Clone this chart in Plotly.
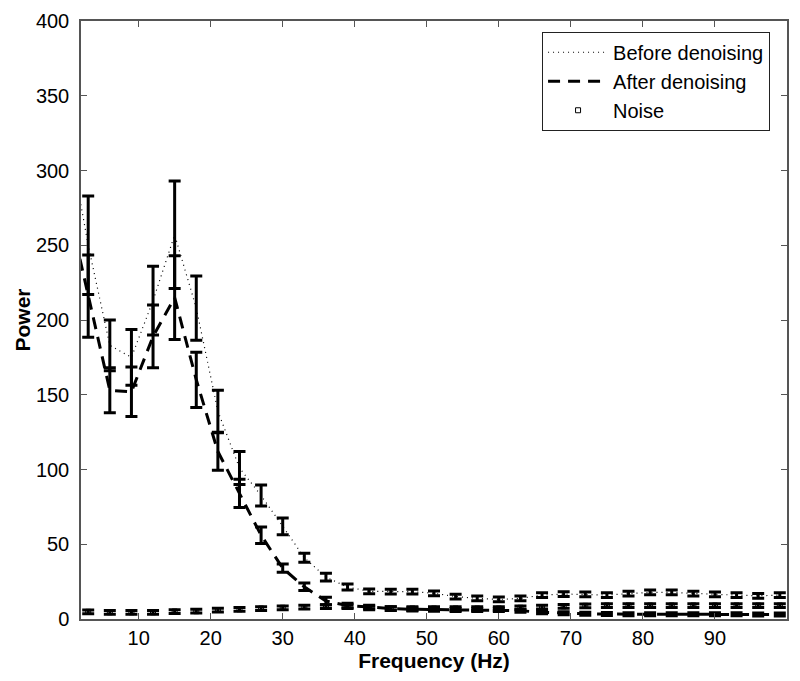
import plotly.graph_objects as go

# ---- data ----
freq = [0, 3, 6, 9, 12, 15, 18, 21, 24, 27, 30, 33, 36, 39, 42, 45, 48, 51,
        54, 57, 60, 63, 66, 69, 72, 75, 78, 81, 84, 87, 90, 93, 96, 99]

before = [330, 250, 183, 175, 213, 257, 208, 139, 101, 82.6, 62, 41, 28, 21.4,
          18.5, 18.3, 18.3, 17.2, 15, 13.8, 13.1, 13.8, 16, 16.7, 16.5, 16, 17,
          17.8, 17.8, 17, 16.5, 16, 15.5, 16]
before_err = [0, 33, 17, 18.6, 23, 36, 21.5, 14, 11, 7, 5.6, 3, 2.6, 2, 1.6,
              1.6, 1.6, 1.6, 1.6, 1.6, 1.6, 1.6, 1.6, 1.6, 1.6, 1.6, 1.6, 1.6,
              1.6, 1.6, 1.6, 1.6, 1.6, 1.6]

after = [280, 216, 153, 152, 189, 215, 160, 112, 84, 56, 34, 21.5, 12, 9, 8,
         7, 6.5, 6.3, 6, 6, 6, 5.5, 4.5, 3.8, 3.5, 3.3, 3.2, 3.2, 3.2, 3.1,
         3.1, 3.1, 3, 3]
after_err = [0, 27.5, 15, 16.5, 21, 28, 18.5, 12.5, 9.5, 5.5, 2.8, 2.5, 2.5,
             1.5, 1.2, 1.2, 1.1, 1.1, 1.0, 1.0, 1.0, 1.0, 1.0, 1.0, 1.0, 1.0,
             1.0, 1.0, 1.0, 1.0, 1.0, 1.0, 1.0, 1.0]

noise = [5, 4.8, 4.5, 4.5, 4.5, 5, 5.2, 6, 6.5, 7, 7.5, 8, 8.3, 8.3, 7.5, 7,
         7, 7, 7, 7, 7, 7.5, 8, 8.5, 8.8, 9, 9, 9, 9, 9, 9, 9, 9, 9]
noise_err = [1.25] * len(freq)

x_ticks = [10, 20, 30, 40, 50, 60, 70, 80, 90]
y_ticks = [0, 50, 100, 150, 200, 250, 300, 350, 400]

FONT = "Liberation Sans, Arial, Helvetica, sans-serif"

fig = go.Figure()

err_style = dict(type="data", visible=True, color="black", thickness=3, width=6)

fig.add_trace(go.Scatter(
    x=freq, y=before, name="Before denoising", mode="lines",
    line=dict(color="black", width=1.2, dash="1px,4px"),
    error_y=dict(array=before_err, **err_style),
))
fig.add_trace(go.Scatter(
    x=freq, y=after, name="After denoising", mode="lines",
    line=dict(color="black", width=3, dash="12px,8px"),
    error_y=dict(array=after_err, **err_style),
))
fig.add_trace(go.Scatter(
    x=freq, y=noise, name="Noise", mode="markers",
    marker=dict(symbol="square-open", size=5, color="black",
                line=dict(color="black", width=1)),
    error_y=dict(array=noise_err, **err_style),
))

axis_common = dict(
    showline=True, linecolor="#555555", linewidth=1.5, mirror="ticks",
    ticks="inside", ticklen=6, tickcolor="#555555", tickwidth=1,
    showgrid=False, zeroline=False, automargin=False,
    tickfont=dict(family=FONT, size=20, color="black"),
)

fig.update_layout(
    width=800, height=681,
    margin=dict(l=81, r=13, t=21, b=62),
    paper_bgcolor="white", plot_bgcolor="white",
    font=dict(family=FONT, color="black"),
    showlegend=True,
    legend=dict(
        x=0.976, y=0.982, xanchor="right", yanchor="top",
        bgcolor="white", bordercolor="#222222", borderwidth=1,
        font=dict(family=FONT, size=20, color="black"),
        tracegroupgap=0, itemwidth=60,
    ),
    xaxis=dict(
        range=[2, 100], tickvals=x_ticks,
        title=dict(text="<b>Frequency (Hz)</b>", font=dict(family=FONT, size=21), standoff=6),
        **axis_common,
    ),
    yaxis=dict(
        range=[0, 400], tickvals=y_ticks, ticklabelstandoff=6,
        title=dict(text="<b>Power</b>", font=dict(family=FONT, size=21), standoff=0),
        **axis_common,
    ),
)

fig.write_html(
    "out.html",
    config={"displayModeBar": False},
    post_script="document.body.style.margin='0';document.body.style.overflow='hidden';",
)
